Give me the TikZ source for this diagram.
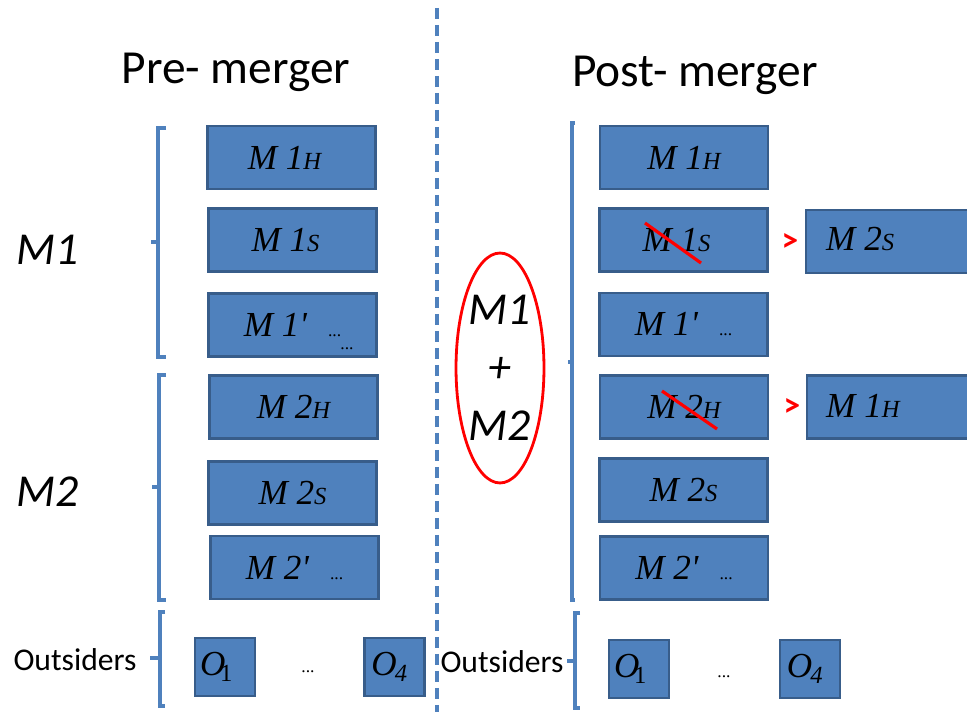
\documentclass[tikz,border=0pt]{standalone}
\usepackage{fontspec}
\setmainfont{Carlito}
\newfontfamily\tnr{Liberation Serif}
\usetikzlibrary{shapes.geometric}
\definecolor{4f81bd}{HTML}{4F81BD}
\definecolor{385d8a}{HTML}{385D8A}
\definecolor{ff0000}{HTML}{FF0000}
\newcommand{\sml}[1]{{\fontsize{14}{14}\selectfont#1}}
\newcommand{\dts}{{\upshape\fontsize{10}{10}\selectfont...}}
\begin{document}
\begin{tikzpicture}[x=.02cm,y=-.02cm,
    lbl/.style={font=\tnr\itshape\fontsize{20}{22}\selectfont},
    firm/.style={lbl,draw=385d8a,fill=4f81bd,line width=1.3pt,minimum width=3.36cm,minimum height=1.26cm,inner sep=0},
    outs/.style={firm,minimum width=1.2cm,minimum height=1.16cm},
    grp/.style={4f81bd,line width=2.2pt},
    title/.style={font=\fontsize{27}{30}\selectfont},
    firmname/.style={font=\itshape\fontsize{26}{33}\selectfont},
    swap/.style={ff0000,font=\bfseries\fontsize{19}{19}\selectfont}]
    \newcommand{\grpbrace}[6]{%
        \draw[grp](#1+#6,#2)--(#1,#2)--(#1,#4)--(#1+#6,#4);
        \draw[grp](#1,#3)--(#1-#5,#3);}
    \clip(0,0)rectangle(967,712);
    \draw[4f81bd,line width=1.9pt,dash pattern=on .22cm off .12cm](437,8)--(437,712);
    \node[title](pre)at(236,72){Pre- merger};
    \node[title](post)at(695,75){Post- merger};
    % pre-merger side
    \node[firmname](m1)at(48,250){M1};
    \node[firmname](m2)at(48,492){M2};
    \node[font=\fontsize{18}{20}\selectfont](outl)at(75,660){Outsiders};
    \grpbrace{158}{128}{242}{357}{7}{8}
    \grpbrace{159}{375}{487}{600}{7}{7}
    \grpbrace{160}{612}{658}{706}{10}{5}
    \node[firm](l1h)at(291.5,157.5){M 1\sml{H}\hspace*{.4em}};
    \node[firm](l1s)at(292.5,240){M 1\sml{S}\hspace*{.4em}};
    \node[firm](l1p)at(292.5,325){M 1\textquotesingle\hspace{.6em}\dts};
    \node[lbl](l1pdots)at(347,349){\dts};
    \node[firm](l2h)at(293.5,407){M 2\sml{H}};
    \node[firm](l2s)at(292.5,493){M 2\sml{S}};
    \node[firm](l2p)at(294.5,567.5){M 2\textquotesingle\hspace{.6em}\dts};
    \node[outs](lo1)at(225,667){O\kern-.15em\raisebox{-.4ex}{\sml{\upshape 1}}\hspace*{.5em}};
    \node[outs](lo4)at(394.5,667){O\kern-.05em\raisebox{-.4ex}{\sml{4}}\hspace*{.3em}};
    \node[lbl](ldots)at(308,672){\dts};
    % merger
    \node[ellipse,draw=ff0000,line width=1.6pt,minimum width=1.68cm,minimum height=4.6cm,inner sep=0,firmname,align=center](merge)at(500,368){M1\\+\\M2};
    % post-merger side
    \node[font=\fontsize{18}{20}\selectfont](outr)at(502,662){Outsiders};
    \grpbrace{572}{123}{362}{600}{4}{3}
    \grpbrace{575}{613}{661}{708}{8}{5}
    \node[firm](r1h)at(684,157.5){M 1\sml{H}};
    \node[firm](r1s)at(683.5,240){M 1\sml{S}\hspace*{.4em}};
    \node[firm](r1p)at(683.5,324.5){M 1\textquotesingle\hspace{.6em}\dts};
    \node[firm](r2h)at(684,407){M 2\sml{H}};
    \node[firm](r2s)at(683.5,490){M 2\sml{S}};
    \node[firm](r2p)at(684,568){M 2\textquotesingle\hspace{.6em}\dts};
    \node[outs](ro1)at(639,669){O\kern-.15em\raisebox{-.4ex}{\sml{\upshape 1}}\hspace*{.5em}};
    \node[outs](ro4)at(810,669){O\kern-.05em\raisebox{-.4ex}{\sml{4}}\hspace*{.3em}};
    \node[lbl](rdots)at(724,677){\dts};
    \draw[ff0000,line width=1.8pt]([shift={(-38.5,-17)}]r1s.center)--([shift={(17.5,23)}]r1s.center);
    \draw[ff0000,line width=1.8pt]([shift={(-22,-16)}]r2h.center)--([shift={(33,22)}]r2h.center);
    \node[swap](sw1)at(790,243){>};
    \node[swap](sw2)at(792,408){>};
    \node[firm](n2s)at(890,241.5){};
    \node[lbl,anchor=west](n2stxt)at(820,239){M 2\sml{S}};
    \node[firm](n1h)at(891,407){};
    \node[lbl,anchor=west](n1htxt)at(820,406){M 1\sml{H}};
\end{tikzpicture}
\end{document}
